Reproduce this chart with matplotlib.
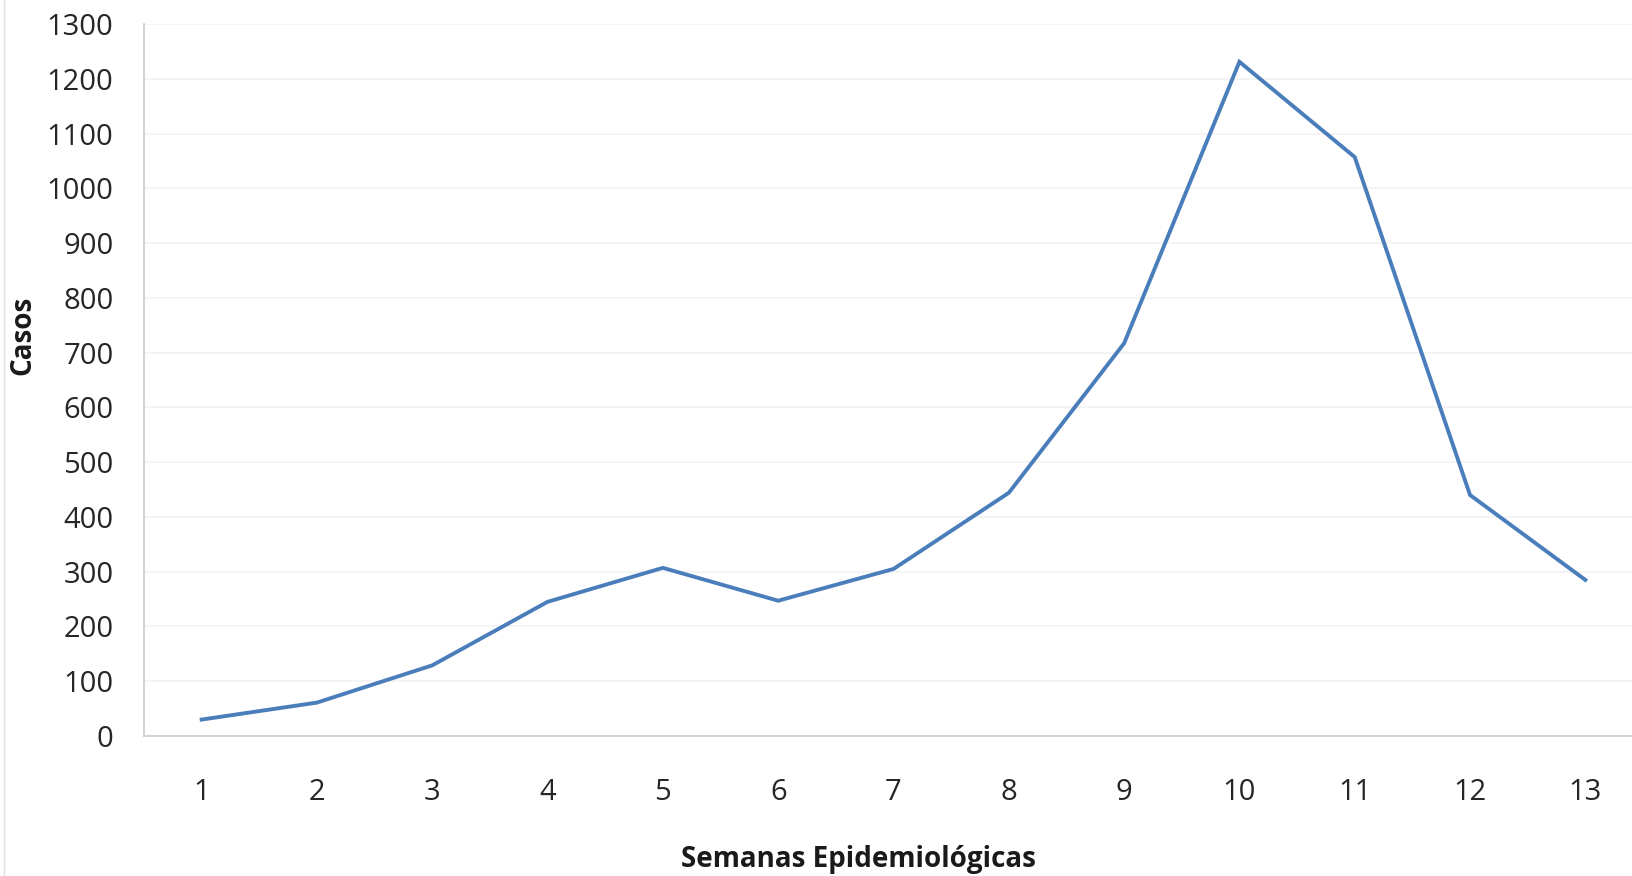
import matplotlib
matplotlib.use("Agg")
import matplotlib.pyplot as plt
from matplotlib.lines import Line2D

# ── data ──────────────────────────────────────────────────────────────────────
semanas = [1, 2, 3, 4, 5, 6, 7, 8, 9, 10, 11, 12, 13]
casos = [30, 61, 129, 245, 307, 247, 305, 444, 717, 1231, 1057, 440, 285]
y_ticks = list(range(0, 1301, 100))

plt.rcParams["font.family"] = ["Open Sans", "DejaVu Sans"]

fig = plt.figure(figsize=(16.32, 8.76), dpi=100)
ax = fig.add_axes([144 / 1632, 1 - 736 / 876, 1499 / 1632, 712 / 876])

ax.plot(semanas, casos, color="#4A7EBB", linewidth=2.8, solid_joinstyle="miter")

ax.set_xlim(0.5, 13.5)
ax.set_ylim(0, 1300)
ax.set_xticks(semanas)
ax.set_yticks(y_ticks)
ax.tick_params(axis="both", length=0, labelsize=21, colors="#262626")
ax.tick_params(axis="x", pad=30)
ax.tick_params(axis="y", pad=22)

ax.grid(axis="y", color="#F2F2F2", linewidth=1.2)
ax.set_axisbelow(True)
for side in ("top", "right"):
    ax.spines[side].set_visible(False)
for side in ("left", "bottom"):
    ax.spines[side].set_color("#D0D0D0")
    ax.spines[side].set_linewidth(1.3)

fig.text(23 / 1632, 1 - 335 / 876, "Casos", rotation=90, fontsize=20,
         fontweight="bold", ha="center", va="center", color="#1a1a1a")
fig.text(858 / 1632, 1 - 860 / 876, "Semanas Epidemiológicas", fontsize=20,
         fontweight="bold", ha="center", va="center", color="#1a1a1a")

# faint chart-area border on the left
fig.add_artist(Line2D([4 / 1632, 4 / 1632], [0, 1], color="#E0E0E0",
                      linewidth=1, transform=fig.transFigure))

fig.savefig("out.png", dpi=100)
